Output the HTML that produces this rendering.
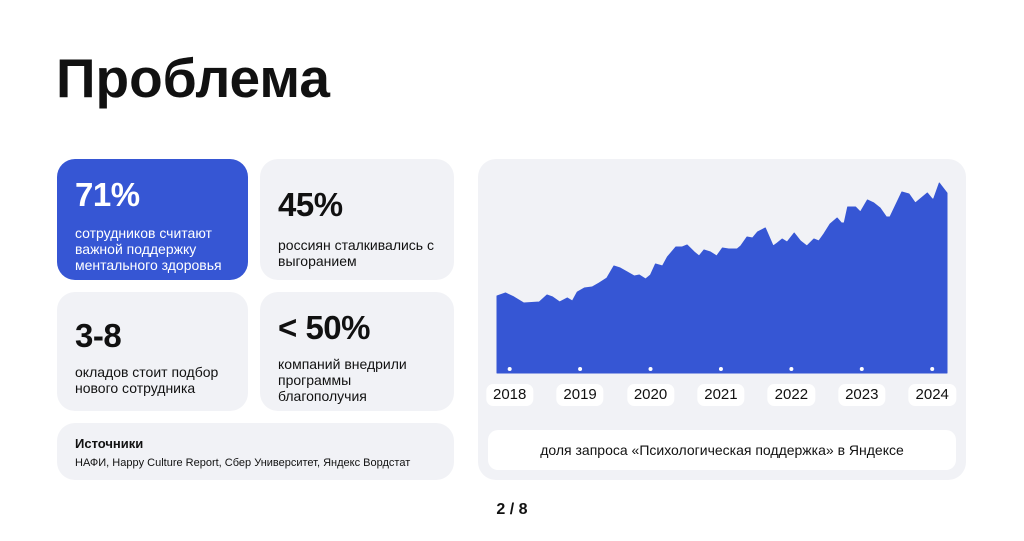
<!DOCTYPE html>
<html><head><meta charset="utf-8"><style>
body{margin:0;width:1024px;height:541px;background:#fff;font-family:"Liberation Sans","Noto Sans CJK SC",sans-serif;position:relative;overflow:hidden;color:#111}
.card{position:absolute;background:#f1f2f6;border-radius:18px;box-sizing:border-box;padding:18px 18px}
.big{font-size:33px;font-weight:bold;letter-spacing:-0.5px;line-height:36px}
.small{font-size:14px;line-height:16px;margin-top:10px}
.yl{position:absolute;top:384px;height:22px;background:#fff;border-radius:7px;font-size:15px;line-height:22px;padding:0 7px;transform:translateX(-50%)}
</style></head><body>
<div style="position:absolute;left:56px;top:46px;font-size:55px;font-weight:bold;letter-spacing:0px">Проблема</div>

<div class="card" style="left:57px;top:159px;width:191px;height:121px;background:#3656d4;color:#fff">
<div class="big">71%</div><div class="small" style="margin-top:12px">сотрудников считают важной поддержку ментального здоровья</div></div>
<div class="card" style="left:260px;top:159px;width:194px;height:121px;padding-top:28px">
<div class="big">45%</div><div class="small" style="margin-top:14px">россиян сталкивались с выгоранием</div></div>
<div class="card" style="left:57px;top:292px;width:191px;height:119px;padding-top:26px">
<div class="big">3-8</div><div class="small" style="margin-top:10px">окладов стоит подбор нового сотрудника</div></div>
<div class="card" style="left:260px;top:292px;width:194px;height:119px;padding-top:18px">
<div class="big">&lt; 50%</div><div class="small" style="margin-top:10px">компаний внедрили программы благополучия</div></div>
<div class="card" style="left:57px;top:423px;width:397px;height:57px;padding-top:13px">
<div style="font-size:13px;font-weight:bold">Источники</div>
<div style="font-size:11px;margin-top:6px">НАФИ, Happy Culture Report, Сбер Университет, Яндекс Вордстат</div></div>

<div class="card" style="left:478px;top:159px;width:488px;height:321px;padding:0">
</div>
<svg id="chart" width="1024" height="541" style="position:absolute;left:0;top:0"></svg>
<div id="labels"></div>
<div style="position:absolute;left:488px;top:430px;width:468px;height:40px;background:#fff;border-radius:10px;text-align:center;line-height:40px;font-size:14px">доля запроса «Психологическая поддержка» в Яндексе</div>
<div style="position:absolute;left:0;width:1024px;top:501px;text-align:center;font-size:16px;font-weight:bold">2 / 8</div>
<script>
const times=[2017.82,2017.94,2018.06,2018.20,2018.42,2018.53,2018.61,2018.71,2018.82,2018.89,2018.96,2019.06,2019.17,2019.27,2019.38,2019.48,2019.57,2019.67,2019.77,2019.84,2019.93,2020.00,2020.07,2020.17,2020.24,2020.36,2020.45,2020.52,2020.62,2020.69,2020.76,2020.85,2020.94,2021.02,2021.11,2021.23,2021.28,2021.37,2021.45,2021.52,2021.63,2021.74,2021.80,2021.87,2021.94,2022.04,2022.13,2022.22,2022.32,2022.39,2022.46,2022.55,2022.65,2022.71,2022.75,2022.80,2022.91,2022.98,2023.08,2023.17,2023.26,2023.35,2023.40,2023.57,2023.67,2023.76,2023.93,2024.00,2024.02,2024.10,2024.21];
const values=[77,80,76,70,71,78,76,71,75,72,81,85,86,90,95,107,105,101,97,98,94,98,109,107,116,126,126,128,121,117,123,121,117,125,124,124,127,136,135,141,145,127,130,134,131,140,132,127,134,132,139,149,155,150,150,166,166,161,173,170,165,156,156,181,179,170,180,174,174,190,180];
const years=[2018,2019,2020,2021,2022,2023,2024];
const t0=2017.82,t1=2024.21,X0=497,X1=947,Y0=373;
const xs=t=>X0+(t-t0)/(t1-t0)*(X1-X0);
const ys=v=>Y0-v;
const svg=document.getElementById('chart');
const NS='http://www.w3.org/2000/svg';
let d='M'+xs(times[0])+','+Y0;
times.forEach((t,i)=>{d+=' L'+xs(t).toFixed(1)+','+ys(values[i]).toFixed(1);});
d+=' L'+xs(times[times.length-1])+','+Y0+' Z';
const p=document.createElementNS(NS,'path');
p.setAttribute('d',d);p.setAttribute('fill','#3656d4');p.setAttribute('stroke','#3656d4');p.setAttribute('stroke-linejoin','round');p.setAttribute('stroke-width','1');


svg.appendChild(p);
const lab=document.getElementById('labels');
years.forEach(y=>{
 const c=document.createElementNS(NS,'circle');
 c.setAttribute('cx',xs(y));c.setAttribute('cy',369);c.setAttribute('r',2);c.setAttribute('fill','#fff');
 
 
 svg.appendChild(c);
 const l=document.createElement('div');
 l.className='yl';l.style.left=xs(y)+'px';l.textContent=y;
 
 
 lab.appendChild(l);
});
</script>
</body></html>
